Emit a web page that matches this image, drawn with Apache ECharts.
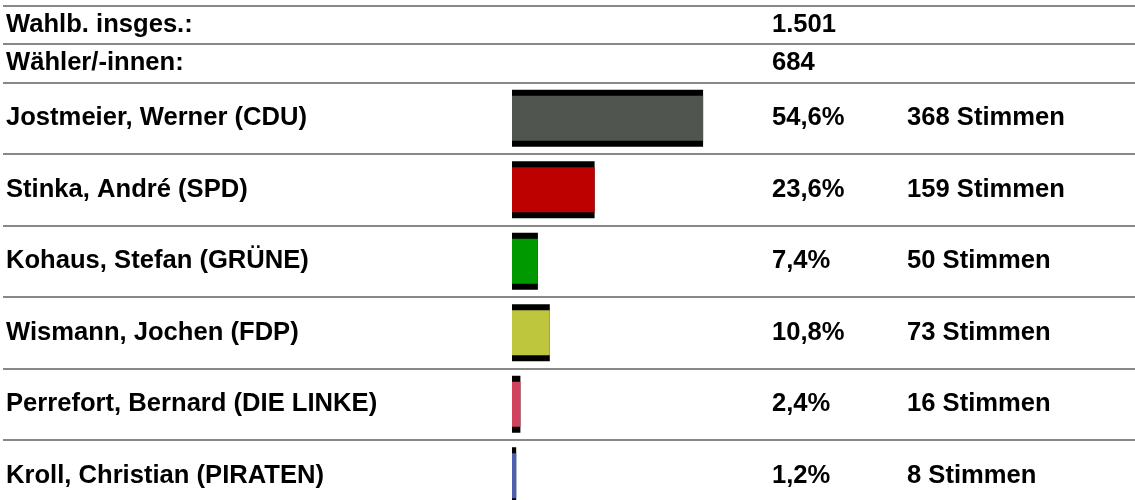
<!DOCTYPE html>
<html><head><meta charset="utf-8">
<script src="https://cdn.jsdelivr.net/npm/echarts@6/dist/echarts.min.js"></script>
<style>html,body{margin:0;padding:0;background:#fff}#c{width:1135px;height:500px}</style>
</head><body><div id="c"></div>
<script>
const headerLabels = ['Wahlb. insges.:', 'Wähler/-innen:'];
const headerValues = ['1.501', '684'];
const candidates = ['Jostmeier, Werner (CDU)', 'Stinka, André (SPD)', 'Kohaus, Stefan (GRÜNE)', 'Wismann, Jochen (FDP)', 'Perrefort, Bernard (DIE LINKE)', 'Kroll, Christian (PIRATEN)'];
const percents = [54.6, 23.6, 7.4, 10.8, 2.4, 1.2];
const votes = [368, 159, 50, 73, 16, 8];
const colors = ['#50564f', '#bd0000', '#009a00', '#bec63d', '#d0435e', '#4c5eb0'];

const FONT = { fontFamily: 'Liberation Sans, Arial, sans-serif', fontWeight: 'bold', fontSize: 25.6, color: '#000' };
const LINE = { show: true, lineStyle: { color: '#888888', width: 2 } };
const fmtPct = v => v.toFixed(1).replace('.', ',') + '%';

function catAxis(grid, data, opts) {
  return Object.assign({
    type: 'category', gridIndex: grid, data: data, inverse: true, position: 'left', offset: 0,
    axisLine: { show: false }, axisTick: { show: false }, splitLine: { show: false },
    axisLabel: { show: false }
  }, opts);
}
function lbl(margin) {
  return Object.assign({ show: true, align: 'left', margin: margin, verticalAlign: 'middle', padding: [5, 0, 0, 0] }, FONT);
}

const chart = echarts.init(document.getElementById('c'), null, { renderer: 'canvas' });
chart.setOption({
  animation: false,
  backgroundColor: '#fff',
  grid: [
    { left: 3, right: 0, top: 5.5, height: 77, outerBoundsMode: 'none', containLabel: false },
    { left: 3, right: 0, top: 82.5, height: 429, outerBoundsMode: 'none', containLabel: false },
    { left: 512, width: 350, top: 82.5, height: 429, outerBoundsMode: 'none', containLabel: false }
  ],
  xAxis: [
    { type: 'value', gridIndex: 0, min: 0, max: 1, show: false },
    { type: 'value', gridIndex: 1, min: 0, max: 1, show: false },
    { type: 'value', gridIndex: 2, min: 0, max: 100, show: false }
  ],
  yAxis: [
    catAxis(0, headerLabels, { splitLine: LINE, axisLabel: lbl(-3) }),
    catAxis(0, headerValues, { axisLabel: lbl(-769) }),
    catAxis(1, candidates, { splitLine: LINE, axisLabel: lbl(-3) }),
    catAxis(1, percents.map(fmtPct), { axisLabel: lbl(-769) }),
    catAxis(1, votes.map(v => v + ' Stimmen'), { axisLabel: lbl(-904) }),
    catAxis(2, candidates, {}),
    catAxis(2, candidates, {})
  ],
  series: [
    {
      type: 'bar', xAxisIndex: 2, yAxisIndex: 5, barWidth: 57, silent: true,
      itemStyle: { color: '#000' },
      data: percents
    },
    {
      type: 'bar', xAxisIndex: 2, yAxisIndex: 6, barWidth: 45, silent: true,
      data: percents.map((v, i) => ({ value: v, itemStyle: { color: colors[i] } }))
    }
  ]
});
</script></body></html>
